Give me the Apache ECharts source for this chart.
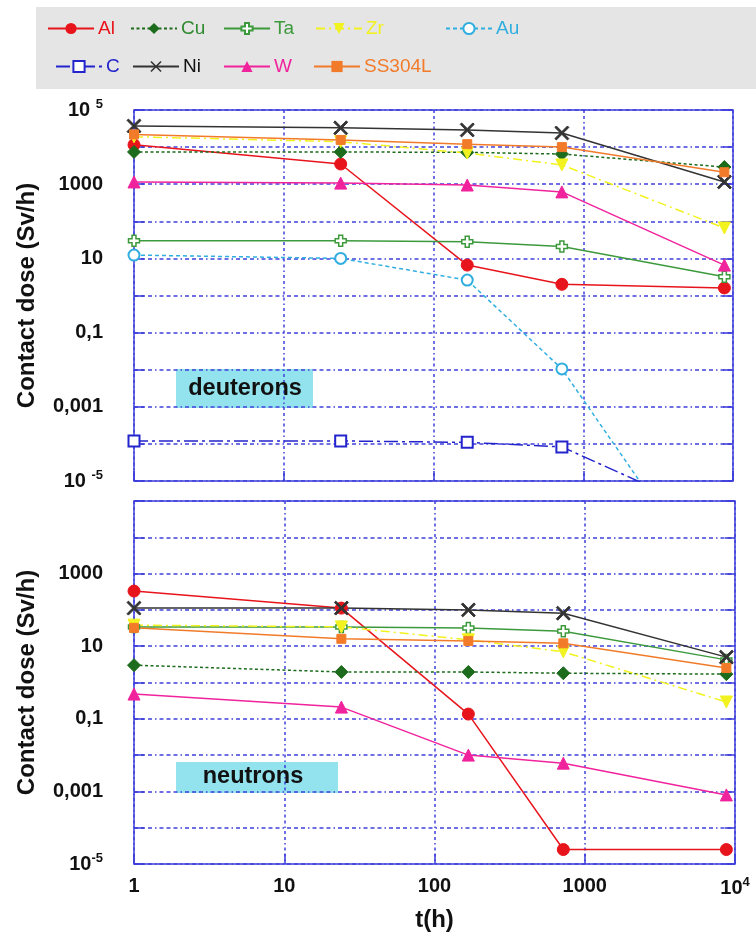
<!DOCTYPE html>
<html>
<head>
<meta charset="utf-8">
<script src="https://cdn.jsdelivr.net/npm/echarts@6/dist/echarts.min.js"></script>
<style>
  html, body { margin: 0; padding: 0; background: #ffffff; }
  #chart { width: 756px; height: 935px; }
</style>
</head>
<body>
<div id="chart"></div>
<script>
// Decay times after irradiation (hours)
const times = [1, 24, 168, 720, 8760];

// Materials, in legend order
const materials = ['Al', 'Cu', 'Ta', 'Zr', 'Au', 'C', 'Ni', 'W', 'SS304L'];

// Contact dose rates (Sv/h) after deuteron irradiation
const dAl = [11500, 3500, 6.6, 2.0, 1.6];
const dCu = [7400, 7400, 7200, 6500, 2900];
const dTa = [30, 30, 28, 21, 3.2];
const dZr = [19000, 14000, 6900, 3300, 66];
const dAu = [12.3, 10, 2.6, 0.0105, 5e-9];
const dC = [1.2e-4, 1.2e-4, 1.1e-4, 8.3e-5, 9e-7];
const dNi = [37000, 33000, 29000, 24000, 1150];
const dW = [1150, 1070, 950, 620, 6.6];
const dSS304L = [22000, 15600, 12000, 10000, 2100];

// Contact dose rates (Sv/h) after neutron irradiation
const nAl = [330, 112, 0.135, 2.5e-5, 2.5e-5];
const nCu = [3.0, 1.95, 1.95, 1.8, 1.7];
const nTa = [34, 34, 31.6, 26, 4.2];
const nZr = [38, 34, 15, 7, 0.29];
const nNi = [112, 112, 100, 81, 5.0];
const nW = [0.48, 0.21, 0.01, 0.006, 8e-4];
const nSS304L = [32, 16, 14, 12, 2.5];

// Axis tick labels
const xTickLabels = ['1', '10', '100', '1000', '{e|10}{s|4}'];
// y labels indexed by decade exponent + 5 (every second decade labelled)
const yTickLabelsTop = ['{e|10 }{s|-5}', '', '0,001', '', '0,1', '', '10', '', '1000', '', '{e|10 }{s|5}'];
const yTickLabelsBottom = ['{e|10}{s|-5}', '', '0,001', '', '0,1', '', '10', '', '1000', '', ''];

const deuteronSets = { Al: dAl, Cu: dCu, Ta: dTa, Zr: dZr, Au: dAu, C: dC, Ni: dNi, W: dW, SS304L: dSS304L };
const neutronSets = { Al: nAl, Cu: nCu, Ta: nTa, Zr: nZr, Ni: nNi, W: nW, SS304L: nSS304L };

const FRAME = '#3b3bdc';
const GRID_COLOR = '#4040dc';
const H_DASH = [4, 3, 4, 3, 4, 3, 1.5, 3];
const V_DASH = [3, 3, 3, 3, 1.5, 3];
const NARROW = '"Liberation Sans Narrow", "Liberation Sans", Arial, sans-serif';
const SANS = '"Liberation Sans", Arial, sans-serif';

const crossX = 'path://M0,1L1,0L5,4L9,0L10,1L6,5L10,9L9,10L5,6L1,10L0,9L4,5Z';
const plus = 'path://M3.2,0H6.8V3.2H10V6.8H6.8V10H3.2V6.8H0V3.2H3.2Z';

const styles = {
  Al:     { color: '#e8141c', text: '#e8141c', symbol: 'circle', size: 12, dash: 'solid' },
  Cu:     { color: '#1d6b1d', text: '#2f8a2f', symbol: 'diamond', size: 13, dash: [3, 2.5] },
  Ta:     { color: '#3c9a3c', text: '#3c9a3c', symbol: plus, size: 11, dash: 'solid', fill: '#ffffff' },
  Zr:     { color: '#f2f21e', text: '#f2f21e', symbol: 'triangle', size: 12, rotate: 180, dash: [9, 4, 2, 4] },
  Au:     { color: '#30aee0', text: '#30aee0', symbol: 'emptyCircle', size: 11, dash: [4, 3] },
  C:      { color: '#2424cc', text: '#2424cc', symbol: 'emptyRect', size: 11, dash: [14, 4, 3, 4] },
  Ni:     { color: '#333333', text: '#111111', symbol: crossX, size: 14, dash: 'solid' },
  W:      { color: '#f0239c', text: '#f0239c', symbol: 'triangle', size: 12, dash: 'solid' },
  SS304L: { color: '#f27b2a', text: '#f27b2a', symbol: 'rect', size: 9, dash: 'solid' }
};

function makeSeries(name, values, gridIdx) {
  const s = styles[name];
  return {
    name: name,
    type: 'line',
    xAxisIndex: gridIdx,
    yAxisIndex: gridIdx,
    data: times.map((t, i) => [t, values[i]]),
    symbol: s.symbol,
    symbolSize: s.size,
    symbolRotate: s.rotate || 0,
    symbolKeepAspect: true,
    showAllSymbol: true,
    clip: true,
    lineStyle: { color: s.color, width: 1.5, type: s.dash },
    itemStyle: s.fill
      ? { color: s.fill, borderColor: s.color, borderWidth: 1.5 }
      : { color: s.color, borderColor: s.color }
  };
}

const series = [];
materials.forEach(m => { if (deuteronSets[m]) series.push(makeSeries(m, deuteronSets[m], 0)); });
materials.forEach(m => { if (neutronSets[m]) series.push(makeSeries(m, neutronSets[m], 1)); });

// Legend layout: two rows inside the grey box
const legendPos = {
  Al: [47, 19], Cu: [130, 19], Ta: [223, 19], Zr: [315, 19], Au: [445, 19],
  C: [55, 57], Ni: [132, 57], W: [223, 57], SS304L: [313, 57]
};
const legends = materials.map(m => ({
  data: [{ name: m, textStyle: { color: styles[m].text } }],
  left: legendPos[m][0],
  top: legendPos[m][1],
  itemWidth: 46,
  itemHeight: 14,
  padding: 0,
  selectedMode: false,
  textStyle: { fontFamily: NARROW, fontSize: 19, padding: [0, 0, 0, -1] }
}));

const richLabel = {
  e: { fontFamily: SANS, fontSize: 20, fontWeight: 'bold', color: '#111', lineHeight: 24, verticalAlign: 'middle' },
  s: { fontFamily: SANS, fontSize: 13, fontWeight: 'bold', color: '#111', lineHeight: 13, verticalAlign: 'top' }
};

function xAxisFor(gridIdx, withLabels) {
  return {
    gridIndex: gridIdx,
    type: 'log',
    logBase: 10,
    min: 1,
    max: 10000,
    interval: 1,
    axisLine: { show: false },
    axisTick: { show: true, inside: true, length: 10, lineStyle: { color: FRAME, width: 1.5 } },
    axisLabel: withLabels ? {
      show: true,
      margin: 12,
      fontFamily: SANS,
      fontSize: 20,
      fontWeight: 'bold',
      color: '#111',
      formatter: v => xTickLabels[Math.round(Math.log10(v))],
      rich: richLabel
    } : { show: false },
    splitLine: { show: true, lineStyle: { color: GRID_COLOR, width: 1.5, type: V_DASH } },
    name: withLabels ? 't(h)' : '',
    nameLocation: 'middle',
    nameGap: 44,
    nameTextStyle: { fontFamily: SANS, fontSize: 24, fontWeight: 'bold', color: '#111' }
  };
}

function yAxisFor(gridIdx, labels) {
  return {
    gridIndex: gridIdx,
    type: 'log',
    logBase: 10,
    min: 1e-5,
    max: 1e5,
    interval: 1,
    axisLine: { show: false },
    axisTick: { show: true, inside: true, length: 10, lineStyle: { color: FRAME, width: 1.5 } },
    axisLabel: {
      margin: 31,
      fontFamily: SANS,
      fontSize: 20,
      fontWeight: 'bold',
      color: '#111',
      formatter: v => labels[Math.round(Math.log10(v)) + 5] || '',
      rich: richLabel
    },
    splitLine: { show: true, lineStyle: { color: GRID_COLOR, width: 1.5, type: H_DASH } },
    name: 'Contact dose (Sv/h)',
    nameLocation: 'middle',
    nameGap: 95,
    nameTextStyle: { fontFamily: SANS, fontSize: 24, fontWeight: 'bold', color: '#111' }
  };
}

function rightTicks(gridIdx) {
  return {
    gridIndex: gridIdx,
    type: 'log',
    logBase: 10,
    min: 1e-5,
    max: 1e5,
    interval: 1,
    position: 'right',
    axisLine: { show: false },
    axisTick: { show: true, inside: true, length: 10, lineStyle: { color: FRAME, width: 1.5 } },
    axisLabel: { show: false },
    splitLine: { show: false }
  };
}

function tagBox(x, y, w, h, label, tx, ty) {
  return [
    { type: 'rect', left: x, top: y, shape: { width: w, height: h }, style: { fill: '#93e3ef' }, z: -1 },
    { type: 'text', x: tx, y: ty, style: { text: label, fontFamily: SANS, fontSize: 23.5, fontWeight: 'bold', fill: '#111', align: 'center', verticalAlign: 'middle' }, z: 10 }
  ];
}

const chart = echarts.init(document.getElementById('chart'), null, { renderer: 'canvas' });
chart.setOption({
  animation: false,
  backgroundColor: '#ffffff',
  legend: legends,
  grid: [
    { left: 134, top: 110, width: 599, height: 371, show: true, borderColor: FRAME, borderWidth: 1.5, backgroundColor: 'transparent' },
    { left: 134, top: 501, width: 601, height: 363, show: true, borderColor: FRAME, borderWidth: 1.5, backgroundColor: 'transparent' }
  ],
  xAxis: [xAxisFor(0, false), xAxisFor(1, true)],
  yAxis: [yAxisFor(0, yTickLabelsTop), yAxisFor(1, yTickLabelsBottom), rightTicks(0), rightTicks(1)],
  graphic: [
    { type: 'rect', left: 36, top: 7, shape: { width: 720, height: 82 }, style: { fill: '#e5e5e5' }, z: -2 }
  ].concat(
    tagBox(176, 369, 137, 39, 'deuterons', 245, 389),
    tagBox(176, 762, 162, 31, 'neutrons', 253, 777)
  ),
  series: series
});
</script>
</body>
</html>
